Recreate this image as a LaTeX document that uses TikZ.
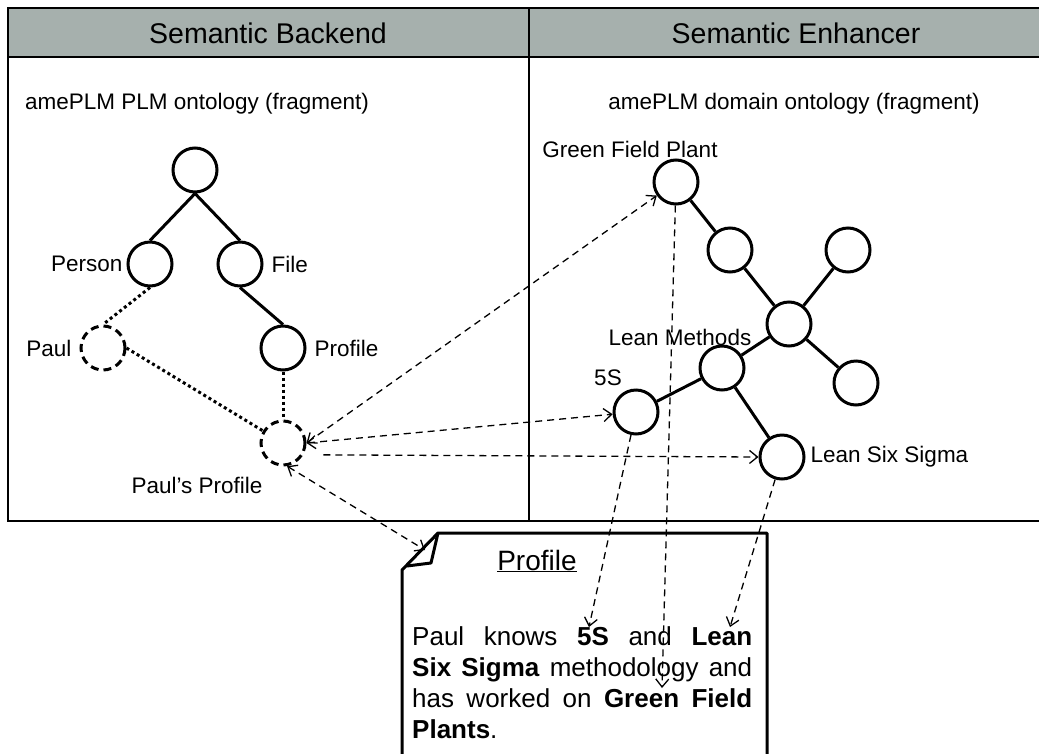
\documentclass[tikz,border=0pt]{standalone}
\usepackage{fontspec}
\setmainfont{Liberation Sans}
\usetikzlibrary{positioning,arrows.meta}
\definecolor{headgray}{RGB}{166,176,173}

\begin{document}
\begin{tikzpicture}[x=1pt,y=-1pt,>={Straight Barb[length=8pt,width=13pt]}]
  \tikzstyle{onto}=[circle,draw,line width=3pt,minimum size=44pt,inner sep=0pt,fill=white]
  \tikzstyle{inst}=[onto,dash pattern=on 8pt off 5pt]
  \tikzstyle{lbl}=[inner sep=0pt,font=\fontsize{22.5}{26}\selectfont]
  \tikzstyle{tie}=[line width=3pt]
  \tikzstyle{dots}=[line width=3pt,dash pattern=on 3pt off 3pt]
  \tikzstyle{link}=[line width=1.3pt,dash pattern=on 7pt off 5pt]
  \useasboundingbox (0,0) rectangle (1039,753);

  % header and frame
  \fill[headgray] (8,8) rectangle (1045,57);
  \draw[line width=2pt] (1045,8) -- (8,8) -- (8,521) -- (1045,521);
  \draw[line width=2pt] (8,57) -- (1045,57);
  \draw[line width=2pt] (529,8) -- (529,521);
  \node[font=\fontsize{28.5}{32}\selectfont] (backend) at (268,33) {Semantic Backend};
  \node[font=\fontsize{28.5}{32}\selectfont] (enhancer) at (796,33) {Semantic Enhancer};
  \node[lbl] (plmonto) at (197,104) {amePLM PLM ontology (fragment)};
  \node[lbl] (domonto) at (794,104) {amePLM domain ontology (fragment)};

  % PLM ontology
  \node[onto] (root) at (195,170) {};
  \node[onto] (person) at (150,264) {};
  \node[onto] (file) at (240,264) {};
  \node[inst] (paul) at (103,348) {};
  \node[onto] (profile) at (283,348) {};
  \node[inst] (pp) at (283,443) {};
  \node[lbl,left=4pt of person] (personlbl) {Person};
  \node[lbl,right=8pt of file] (filelbl) {File};
  \node[lbl,left=8pt of paul] (paullbl) {Paul};
  \node[lbl,right=8pt of profile] (profilelbl) {Profile};
  \node[lbl] (pplbl) at (197,485) {Paul’s Profile};
  \draw[tie] (root.south) -- (person.north);
  \draw[tie] (root.south) -- (file.north);
  \draw[tie] (file.south) -- (profile.north);
  \draw[dots] (person.south) -- (paul.north);
  \draw[dots] (paul.east) -- (pp);
  \draw[dots] (profile.south) -- (pp.north);

  % domain ontology
  \node[onto] (gfp) at (676,182) {};
  \node[onto] (plantpart) at (730,250) {};
  \node[onto] (hub) at (789,324) {};
  \node[onto] (topright) at (848,250) {};
  \node[onto] (lowright) at (856,383) {};
  \node[onto] (lean) at (722,368) {};
  \node[onto] (fives) at (636,412) {};
  \node[onto] (lss) at (782,457) {};
  \node[lbl] (gfplbl) at (630,149) {Green Field Plant};
  \node[lbl] (leanlbl) at (680,337) {Lean Methods};
  \node[lbl] (fiveslbl) at (608,378) {5S};
  \node[lbl,right=5pt of lss] (lsslbl) {Lean Six Sigma};
  \draw[tie] (gfp) -- (plantpart);
  \draw[tie] (plantpart) -- (hub);
  \draw[tie] (hub) -- (topright);
  \draw[tie] (hub) -- (lowright);
  \draw[tie] (hub) -- (lean);
  \draw[tie] (lean) -- (fives);
  \draw[tie] (lean) -- (lss);

  % profile document
  \draw[line width=3pt,fill=white,line join=round] (767,760) |- (438,533) -- (402,570) -- (402,760);
  \draw[line width=3pt,line join=round] (438,533) -- (431,563) -- (407,566);
  \node[font=\fontsize{28}{32}\selectfont] (doctitle) at (537,561) {\underline{Profile}};
  \node[anchor=north west,inner sep=0pt,text width=340pt,align=justify,
        font=\fontsize{26}{31}\selectfont] (doctext) at (412,626)
    {Paul knows \textbf{5S} and \textbf{Lean}\linebreak
     \textbf{Six Sigma} methodology and\linebreak
     has worked on \textbf{Green Field}\linebreak
     \textbf{Plants}.};
  \coordinate (docfold) at (425,550);
  \coordinate (to5s) at (589,627);
  \coordinate (togfp) at (662,688);
  \coordinate (tolss) at (730,627);

  % links
  \draw[link,<->] (pp.east) -- (gfp);
  \draw[link,<->] (pp.east) -- (fives);
  \draw[link,->,shorten <=20pt] (pp.-30) -- (lss.west);
  \draw[link,<->] (pp.-80) -- (docfold);
  \draw[link,->] (fives) -- (to5s);
  \draw[link,->] (gfp) -- (togfp);
  \draw[link,->] (lss) -- (tolss);
\end{tikzpicture}
\end{document}
